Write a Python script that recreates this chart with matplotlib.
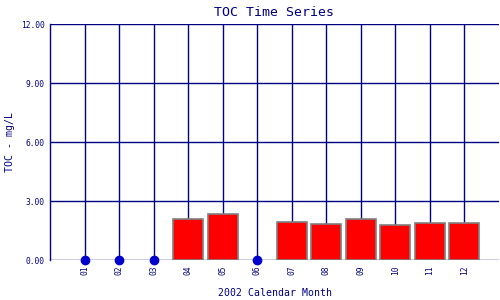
import matplotlib
matplotlib.use("Agg")
import matplotlib.pyplot as plt
import numpy as np

months = ["01", "02", "03", "04", "05", "06", "07", "08", "09", "10", "11", "12"]
toc_values = [0.0, 0.0, 0.0, 2.07, 2.32, 0.0, 1.92, 1.81, 2.07, 1.76, 1.87, 1.87]
y_ticks = [0.0, 3.0, 6.0, 9.0, 12.0]

navy = "#000080"
font = "DejaVu Sans Mono"

fig = plt.figure(figsize=(5, 3), dpi=100)
ax = fig.add_axes([0.1, 0.1333, 0.898, 0.7867])

x = np.arange(1, len(months) + 1)
vals = np.array(toc_values)

# grid
for xi in x:
    ax.axvline(xi, color=navy, lw=1.0, zorder=1)
for yt in y_ticks:
    ax.axhline(yt, color=navy, lw=1.0, zorder=1)

bar_mask = vals > 0
ax.bar(x[bar_mask], vals[bar_mask], width=0.87, color="#ff0000",
       edgecolor="#808080", linewidth=1.2, zorder=2)
ax.plot(x[~bar_mask], vals[~bar_mask], "o", color="#0000cc", ms=6,
        zorder=3, clip_on=False)

ax.set_xlim(0, 13)
ax.set_ylim(0, 12)
ax.set_xticks(x)
ax.set_xticklabels(months, rotation=90, fontsize=5.7, family=font, color=navy)
ax.set_yticks(y_ticks)
ax.set_yticklabels([f"{v:.2f}" for v in y_ticks], fontsize=5.7, family=font,
                   color=navy)
ax.tick_params(length=0, pad=4)
for s in ["top", "right", "bottom"]:
    ax.spines[s].set_visible(False)
ax.spines["left"].set_color(navy)
ax.spines["left"].set_linewidth(1.0)

ax.set_title("TOC Time Series", fontsize=9.5, family=font, color=navy, pad=6)
ax.set_xlabel("2002 Calendar Month", fontsize=7.1, family=font, color=navy,
              labelpad=9)
ax.set_ylabel("TOC - mg/L", fontsize=7.1, family=font, color=navy, labelpad=4)

fig.savefig("out.png", dpi=100)
